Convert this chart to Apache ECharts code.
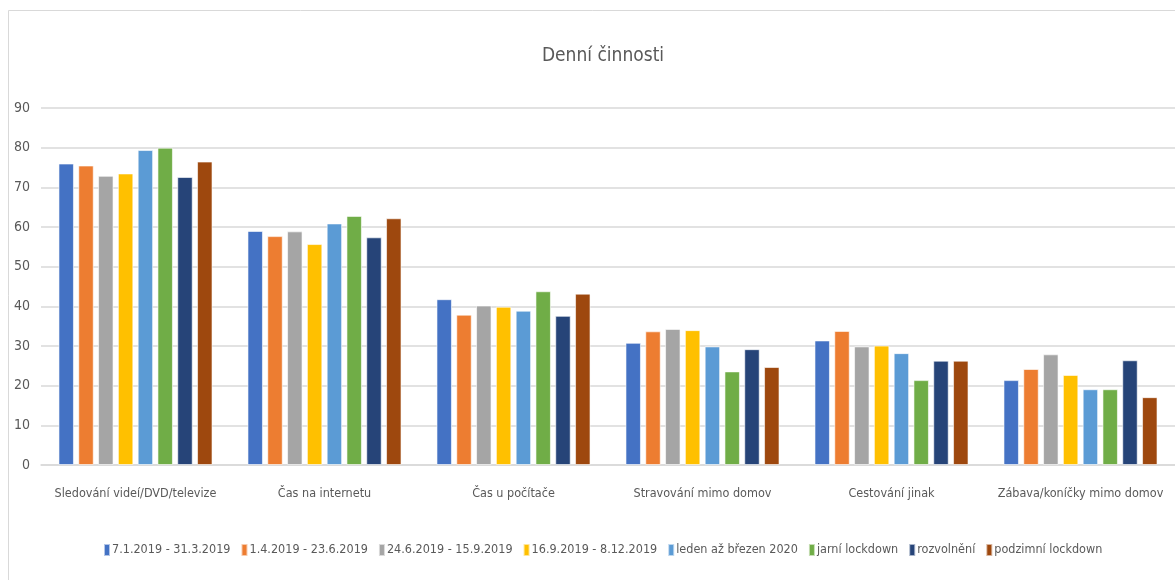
<!DOCTYPE html>
<html><head><meta charset="utf-8">
<script src="https://cdn.jsdelivr.net/npm/echarts@6/dist/echarts.min.js"></script>
<style>html,body{margin:0;padding:0;background:#fff}#c{width:1175px;height:580px}</style>
</head><body><div id="c"></div>
<script>
const categories = ["Sledování videí/DVD/televize","Čas na internetu","Čas u počítače","Stravování mimo domov","Cestování jinak","Zábava/koníčky mimo domov"];
const seriesNames = ["7.1.2019 - 31.3.2019","1.4.2019 - 23.6.2019","24.6.2019 - 15.9.2019","16.9.2019 - 8.12.2019","leden až březen 2020","jarní lockdown","rozvolnění","podzimní lockdown"];
const s1 = [76.0, 59.0, 41.8, 30.8, 31.4, 21.4];
const s2 = [75.5, 57.7, 37.9, 33.7, 33.8, 24.2];
const s3 = [72.9, 58.9, 40.2, 34.3, 29.9, 27.9];
const s4 = [73.5, 55.7, 39.9, 34.0, 30.1, 22.7];
const s5 = [79.4, 60.9, 38.9, 29.9, 28.2, 19.1];
const s6 = [80.0, 62.8, 43.8, 23.6, 21.4, 19.1];
const s7 = [72.6, 57.4, 37.6, 29.2, 26.3, 26.4];
const s8 = [76.5, 62.2, 43.2, 24.7, 26.3, 17.1];
const yTicks = [0, 10, 20, 30, 40, 50, 60, 70, 80, 90];
const colors = ["#4472C4","#ED7D31","#A5A5A5","#FFC000","#5B9BD5","#70AD47","#264478","#9E480E"];
const allData = [s1, s2, s3, s4, s5, s6, s7, s8];
const narrow = "'Liberation Sans Narrow','DejaVu Sans Condensed',sans-serif";

const chart = echarts.init(document.getElementById('c'), null, {renderer: 'canvas'});
chart.setOption({
  animation: false,
  backgroundColor: '#fff',
  color: colors,
  graphic: [{type: 'rect', shape: {x: 8.5, y: 10.5, width: 1200, height: 620}, style: {fill: 'none', stroke: '#d9d9d9', lineWidth: 1}, z: -1}],
  title: {text: 'Denní činnosti', left: 598, textAlign: 'center', top: 42, textStyle: {fontFamily: narrow, fontSize: 19, fontWeight: 'normal', color: '#595959'}},
  legend: {
    data: seriesNames, bottom: 18, left: 98, itemWidth: 6, itemHeight: 12, itemGap: 10,
    icon: 'rect',
    textStyle: {fontFamily: narrow, fontSize: 12.5, color: '#595959', padding: [0,0,0,-3]}
  },
  grid: {left: 41, right: 0, top: 108, bottom: 115, containLabel: false},
  xAxis: {
    type: 'category', data: categories,
    axisLine: {show: true, lineStyle: {color: '#d9d9d9', width: 1.5}},
    axisTick: {show: false},
    axisLabel: {fontFamily: narrow, fontSize: 12.5, color: '#595959', margin: 22, interval: 0}
  },
  yAxis: {
    type: 'value', min: yTicks[0], max: yTicks[yTicks.length - 1], interval: 10,
    axisLine: {show: false}, axisTick: {show: false},
    axisLabel: {fontFamily: narrow, fontSize: 14, color: '#595959', margin: 11},
    splitLine: {lineStyle: {color: '#d9d9d9', width: 1.5}}
  },
  series: seriesNames.map((n, i) => ({
    name: n, type: 'bar', data: allData[i],
    barGap: '28%', barCategoryGap: '18.5%',
    itemStyle: {borderColor: 'rgba(255,255,255,0.6)', borderWidth: 1}
  }))
});
</script></body></html>
